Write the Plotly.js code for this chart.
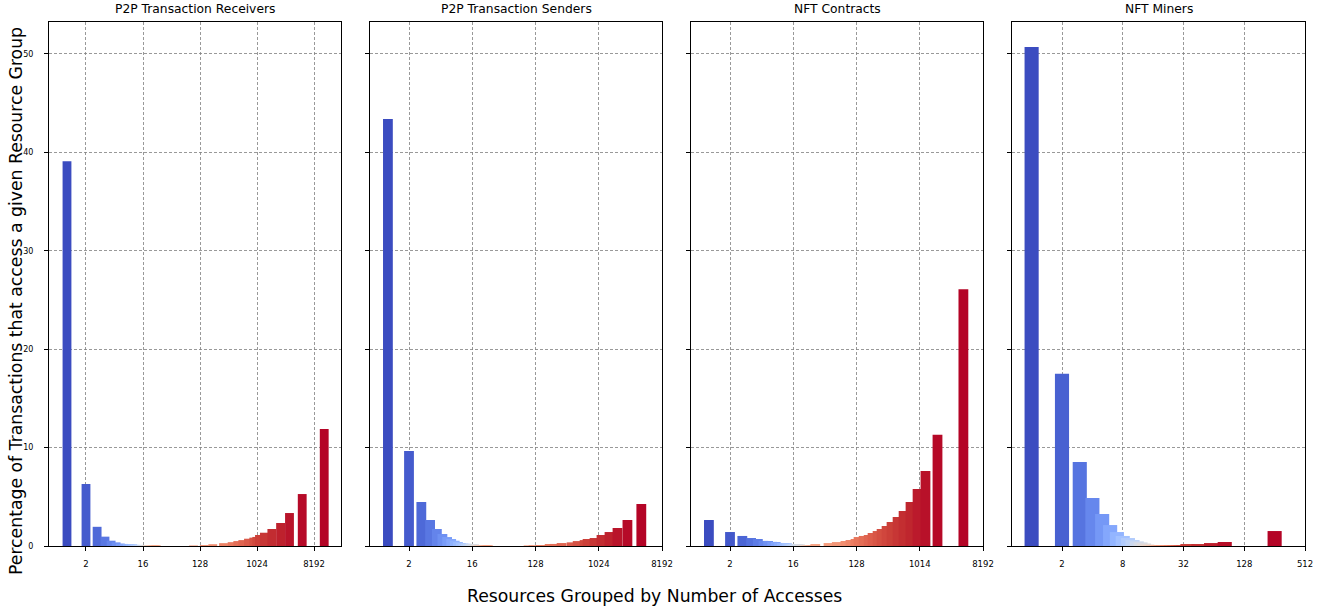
<!DOCTYPE html>
<html>
<head>
<meta charset="utf-8">
<script src="https://cdn.plot.ly/plotly-3.0.1.min.js"></script>
<style>
html,body{margin:0;padding:0;background:#fff;}
#chart{width:1323px;height:613px;}
</style>
</head>
<body>
<div id="chart"></div>
<script>
// ---------------- DATA ----------------
const panelTitles = ["P2P Transaction Receivers", "P2P Transaction Senders", "NFT Contracts", "NFT Miners"];
const xAxisTitle = "Resources Grouped by Number of Accesses";
const yAxisTitle = "Percentage of Transactions that access a given Resource Group";

// P2P Transaction Receivers
const receiversAccesses = [1,2,3,4,5,6,7,8,9,10,11,12,13,14,15,16,17,18,19,20,21,22,23,24,25,26,
  101,150,204,302,413,508,610,750,910,1015,1120,1340,1760,2420,3350,5330,11900];
const receiversPct = [39.1,6.3,1.95,0.95,0.54,0.37,0.25,0.21,0.2,0.19,0.18,0.12,0.11,0.11,0.1,0.1,0.1,0.09,0.09,0.09,0.08,0.08,0.08,0.08,0.07,0.07,
  0.06,0.1,0.18,0.29,0.39,0.5,0.6,0.74,0.85,0.92,1.12,1.35,1.73,2.34,3.35,5.28,11.9];

// P2P Transaction Senders
const sendersAccesses = [1,2,3,4,5,6,7,8,9,10,11,12,13,14,15,16,17,18,19,20,21,22,23,24,25,26,27,
  102,120,151,204,240,302,419,512,643,709,892,1121,1458,1897,2629,4150];
const sendersPct = [43.4,9.65,4.47,2.64,1.73,1.22,0.91,0.71,0.54,0.41,0.3,0.25,0.24,0.2,0.2,0.19,0.18,0.11,0.1,0.1,0.09,0.09,0.08,0.08,0.07,0.07,0.06,
  0.06,0.07,0.1,0.2,0.21,0.3,0.37,0.5,0.6,0.71,0.81,1.12,1.42,1.83,2.64,4.27];

// NFT Contracts
const contractsAccesses = [1,2,3,4,5,6,7,8,9,10,11,12,13,14,15,16,17,18,19,20,21,22,23,24,25,26,27,28,29,30,
  33,51,67,89,105,124,137,162,191,217,256,292,344,405,494,602,756,953,1236,1835,4300];
const contractsPct = [2.64,1.42,1.02,0.81,0.71,0.52,0.51,0.42,0.41,0.31,0.3,0.3,0.29,0.2,0.2,0.2,0.19,0.19,0.18,0.17,0.08,0.08,0.07,0.07,0.07,0.07,0.07,0.06,0.06,0.06,
  0.2,0.3,0.4,0.51,0.61,0.71,0.91,1.02,1.12,1.32,1.52,1.73,2.03,2.44,2.95,3.56,4.47,5.79,7.62,11.3,26.1];

// NFT Miners
const minersAccesses = [1,2,3,4,5,6,7,8,9,10,11,12,13,14,15,16,17,18,19,20,22,24,26,28,30,32,
  35,45,60,82,256];
const minersPct = [50.7,17.5,8.54,4.88,3.25,2.13,1.42,1.02,0.81,0.61,0.47,0.37,0.26,0.15,0.08,0.08,0.08,0.08,0.08,0.07,0.07,0.07,0.07,0.07,0.07,0.07,
  0.2,0.2,0.3,0.41,1.52];

// tick labels
const tickValsWide = [2,16,128,1024,8192];
const tickTextReceivers = ["2","16","128","1024","8192"];
const tickTextSenders = ["2","16","128","1024","8192"];
const tickTextContracts = ["2","16","128","1014","8192"];
const tickValsMiners = [2,8,32,128,512];
const tickTextMiners = ["2","8","32","128","512"];
const yTickVals = [0,10,20,30,40,50];
const yTickText = ["0","10","20","30","40","50"];

// ---------------- STYLE ----------------
const coolwarm = [
 [59,76,192],[68,90,204],[77,104,215],[87,117,225],[98,130,234],[108,142,241],[119,154,247],[130,165,251],
 [141,176,254],[152,185,255],[163,194,255],[174,201,253],[184,208,249],[194,213,244],[204,217,238],[213,219,230],
 [221,221,221],[229,216,209],[236,211,197],[241,204,185],[245,196,173],[247,187,160],[247,177,148],[247,166,135],
 [244,154,123],[241,141,111],[236,127,99],[229,112,88],[222,96,77],[213,80,66],[203,62,56],[192,40,47],[180,4,38]];
function cw(t){
  t = Math.max(0, Math.min(1, t));
  const f = t * (coolwarm.length - 1);
  const i = Math.min(Math.floor(f), coolwarm.length - 2);
  const u = f - i;
  const a = coolwarm[i], b = coolwarm[i+1];
  const c = a.map((v,k)=>Math.round(v + (b[k]-v)*u));
  return `rgb(${c[0]},${c[1]},${c[2]})`;
}
const colorShape = 1.4;
const colorPos = t => 1 - Math.pow(1 - t, colorShape);

const W = 1323, H = 613;
const plotTop = 22, plotBottom = 546;
const panelPx = [[49,341],[370,662],[691,983],[1012,1305]];
// x ranges expressed in log2 units
const log2Ranges = [[-0.947,14.421],[-0.85,13],[-0.85,13],[-0.646,9]];
const halfLogWidth = 0.2325; // half bar width in octaves
const r = Math.pow(2, halfLogWidth);

const panels = [
  {x: receiversAccesses, y: receiversPct, tv: tickValsWide, tt: tickTextReceivers},
  {x: sendersAccesses, y: sendersPct, tv: tickValsWide, tt: tickTextSenders},
  {x: contractsAccesses, y: contractsPct, tv: tickValsWide, tt: tickTextContracts},
  {x: minersAccesses, y: minersPct, tv: tickValsMiners, tt: tickTextMiners}
];

const font = "DejaVu Sans, Liberation Sans, sans-serif";
const traces = [];
const layout = {
  width: W, height: H,
  margin: {l:0, r:0, t:0, b:0},
  paper_bgcolor: "#fff", plot_bgcolor: "#fff",
  showlegend: false,
  barmode: "overlay",
  font: {family: font, color: "#000"},
  annotations: []
};

panels.forEach((p, k) => {
  const n = p.x.length;
  const sfx = k === 0 ? "" : String(k+1);
  traces.push({
    type: "bar",
    x: p.x, y: p.y,
    offset: p.x.map(v => v / r - v),
    width: p.x.map(v => v * r - v / r),
    marker: {color: p.x.map((v,i) => cw(colorPos(i/(n-1)))), line: {width: 0}},
    xaxis: "x" + sfx, yaxis: "y" + sfx,
    hoverinfo: "x+y"
  });
  const dom = [panelPx[k][0]/W, panelPx[k][1]/W];
  layout["xaxis" + sfx] = {
    type: "log",
    domain: dom,
    range: log2Ranges[k].map(v => v * Math.LOG10E * Math.LN2),
    anchor: "y" + sfx,
    tickmode: "array", tickvals: p.tv, ticktext: p.tt,
    ticks: "outside", ticklen: 4, tickwidth: 1, tickcolor: "#000",
    tickfont: {size: 8.5, family: font, color: "#000"},
    ticklabelstandoff: 6,
    showline: true, mirror: true, linecolor: "#000", linewidth: 1,
    showgrid: true, gridcolor: "#808080", gridwidth: 0.8, griddash: "3px,2px",
    zeroline: false, fixedrange: true
  };
  layout["yaxis" + sfx] = {
    domain: [1 - plotBottom/H, 1 - plotTop/H],
    range: [0, 53.25],
    anchor: "x" + sfx,
    tickmode: "array", tickvals: yTickVals, ticktext: yTickText,
    showticklabels: k === 0,
    ticks: "outside", ticklen: 4, tickwidth: 1, tickcolor: "#000",
    tickfont: {size: 8, family: font, color: "#000"},
    ticklabelstandoff: 9,
    showline: true, mirror: true, linecolor: "#000", linewidth: 1,
    showgrid: true, gridcolor: "#808080", gridwidth: 0.8, griddash: "3px,2px",
    zeroline: false, fixedrange: true
  };
  layout.annotations.push({
    text: panelTitles[k], xref: "paper", yref: "paper",
    x: (panelPx[k][0] + panelPx[k][1]) / 2 / W, y: 1 - 9.5/H,
    xanchor: "center", yanchor: "middle", showarrow: false,
    font: {size: 12.3, family: font, color: "#000"}
  });
});

layout.annotations.push({
  text: xAxisTitle, xref: "paper", yref: "paper",
  x: 654/W, y: 1 - 596/H, xanchor: "center", yanchor: "middle", showarrow: false,
  font: {size: 17.25, family: font, color: "#000"}
});
layout.annotations.push({
  text: yAxisTitle, xref: "paper", yref: "paper",
  x: 16/W, y: 1 - 301/H, xanchor: "center", yanchor: "middle", showarrow: false,
  textangle: -90,
  font: {size: 17.25, family: font, color: "#000"}
});

Plotly.newPlot("chart", traces, layout, {displayModeBar: false, staticPlot: true});
</script>
</body>
</html>
